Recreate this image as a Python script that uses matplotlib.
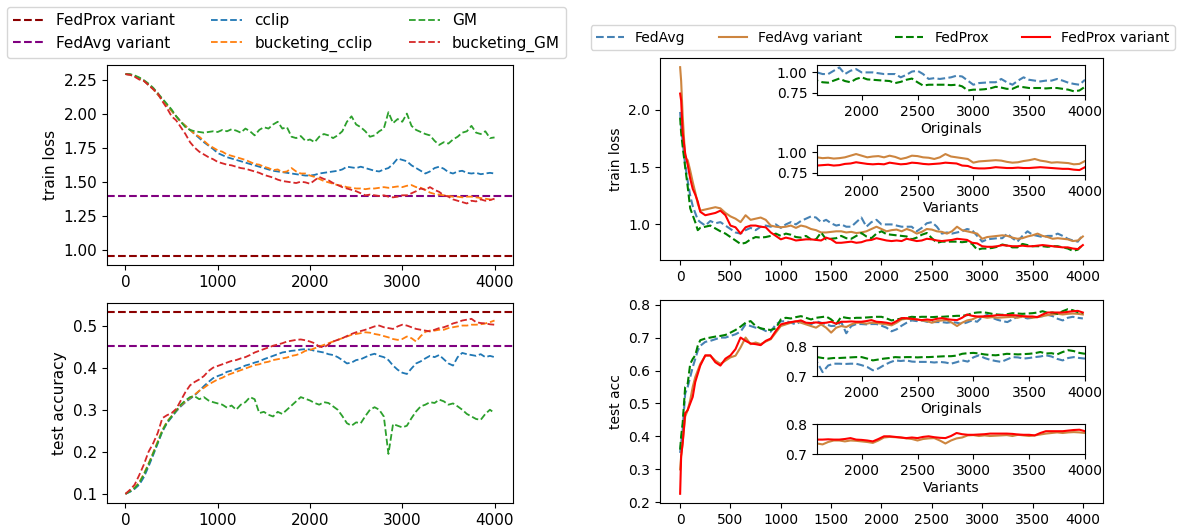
import numpy as np
import matplotlib
matplotlib.use("Agg")
import matplotlib.pyplot as plt
from matplotlib.lines import Line2D

# ---------------- data: left panels (step 50, 0..4000) ----------------
steps_left = list(range(0, 4001, 50))

cclip_loss = [
    2.29, 2.285, 2.275, 2.26, 2.24, 2.21, 2.18, 2.14, 2.10, 2.06,
    2.02, 1.98, 1.94, 1.91, 1.88, 1.85, 1.82, 1.79, 1.765, 1.74,
    1.71, 1.695, 1.68, 1.67, 1.66, 1.65, 1.64, 1.63, 1.62, 1.61,
    1.60, 1.59, 1.58, 1.575, 1.57, 1.565, 1.56, 1.555, 1.55, 1.545,
    1.545, 1.55, 1.56, 1.565, 1.57, 1.575, 1.58, 1.59, 1.61, 1.605,
    1.60, 1.61, 1.60, 1.59, 1.58, 1.575, 1.59, 1.60, 1.63, 1.67,
    1.66, 1.65, 1.62, 1.60, 1.58, 1.56, 1.575, 1.60, 1.61, 1.595,
    1.57, 1.56, 1.575, 1.58, 1.565, 1.56, 1.565, 1.555, 1.56, 1.565,
    1.56]
bucketing_cclip_loss = [
    2.29, 2.285, 2.275, 2.26, 2.24, 2.21, 2.18, 2.14, 2.10, 2.06,
    2.02, 1.98, 1.94, 1.91, 1.88, 1.85, 1.83, 1.80, 1.77, 1.75,
    1.73, 1.72, 1.70, 1.69, 1.68, 1.67, 1.66, 1.645, 1.63, 1.625,
    1.61, 1.60, 1.585, 1.59, 1.57, 1.575, 1.60, 1.575, 1.56, 1.56,
    1.545, 1.535, 1.52, 1.505, 1.495, 1.485, 1.475, 1.47, 1.46, 1.455,
    1.45, 1.45, 1.445, 1.45, 1.45, 1.455, 1.46, 1.455, 1.46, 1.465,
    1.46, 1.47, 1.475, 1.46, 1.455, 1.44, 1.42, 1.41, 1.405, 1.40,
    1.395, 1.39, 1.39, 1.385, 1.39, 1.39, 1.385, 1.38, 1.375, 1.37,
    1.36]
gm_loss = [
    2.29, 2.29, 2.28, 2.265, 2.245, 2.22, 2.19, 2.15, 2.11, 2.07,
    2.03, 1.98, 1.94, 1.90, 1.88, 1.87, 1.865, 1.86, 1.865, 1.87,
    1.865, 1.88, 1.87, 1.885, 1.875, 1.86, 1.89, 1.87, 1.84, 1.88,
    1.90, 1.89, 1.92, 1.94, 1.89, 1.90, 1.83, 1.82, 1.835, 1.80,
    1.81, 1.79, 1.83, 1.85, 1.84, 1.82, 1.84, 1.87, 1.94, 1.98,
    1.92, 1.90, 1.87, 1.83, 1.84, 1.87, 1.89, 2.01, 1.93, 1.96,
    1.94, 2.00, 1.91, 1.88, 1.865, 1.85, 1.84, 1.80, 1.77, 1.79,
    1.78, 1.81, 1.83, 1.86, 1.87, 1.91, 1.86, 1.85, 1.87, 1.82,
    1.825]
bucketing_gm_loss = [
    2.29, 2.285, 2.27, 2.25, 2.24, 2.21, 2.18, 2.15, 2.09, 2.04,
    1.98, 1.95, 1.90, 1.85, 1.79, 1.75, 1.72, 1.70, 1.68, 1.665,
    1.645, 1.635, 1.625, 1.62, 1.61, 1.60, 1.595, 1.585, 1.575, 1.565,
    1.55, 1.54, 1.53, 1.515, 1.505, 1.50, 1.495, 1.49, 1.50, 1.495,
    1.485, 1.51, 1.535, 1.52, 1.51, 1.49, 1.475, 1.46, 1.45, 1.44,
    1.43, 1.415, 1.40, 1.405, 1.40, 1.395, 1.40, 1.39, 1.385, 1.39,
    1.40, 1.40, 1.415, 1.43, 1.45, 1.44, 1.46, 1.44, 1.425, 1.40,
    1.39, 1.37, 1.36, 1.35, 1.34, 1.36, 1.355, 1.37, 1.36, 1.365,
    1.375]

cclip_acc = [
    0.100, 0.105, 0.112, 0.122, 0.140, 0.165, 0.192, 0.220, 0.248, 0.268,
    0.282, 0.296, 0.308, 0.318, 0.326, 0.334, 0.345, 0.356, 0.366, 0.375,
    0.380, 0.384, 0.390, 0.393, 0.396, 0.400, 0.405, 0.408, 0.412, 0.415,
    0.420, 0.424, 0.428, 0.432, 0.436, 0.438, 0.440, 0.441, 0.443, 0.444,
    0.443, 0.440, 0.438, 0.436, 0.432, 0.430, 0.425, 0.418, 0.410, 0.412,
    0.418, 0.420, 0.425, 0.430, 0.433, 0.428, 0.425, 0.418, 0.405, 0.395,
    0.388, 0.385, 0.398, 0.410, 0.415, 0.422, 0.428, 0.425, 0.430, 0.420,
    0.410, 0.405, 0.425, 0.435, 0.432, 0.430, 0.428, 0.432, 0.425, 0.428,
    0.425]
bucketing_cclip_acc = [
    0.100, 0.108, 0.115, 0.128, 0.148, 0.172, 0.198, 0.225, 0.252, 0.272,
    0.285, 0.298, 0.310, 0.320, 0.328, 0.336, 0.345, 0.352, 0.360, 0.366,
    0.372, 0.376, 0.382, 0.386, 0.390, 0.394, 0.398, 0.402, 0.406, 0.408,
    0.412, 0.414, 0.418, 0.420, 0.422, 0.424, 0.428, 0.430, 0.434, 0.440,
    0.442, 0.446, 0.450, 0.454, 0.458, 0.462, 0.466, 0.470, 0.474, 0.478,
    0.480, 0.482, 0.484, 0.483, 0.480, 0.478, 0.475, 0.472, 0.468, 0.466,
    0.468, 0.474, 0.470, 0.462, 0.475, 0.485, 0.488, 0.488, 0.490, 0.490,
    0.494, 0.496, 0.498, 0.500, 0.500, 0.502, 0.502, 0.503, 0.505, 0.508,
    0.512]
gm_acc = [
    0.100, 0.106, 0.114, 0.126, 0.146, 0.170, 0.196, 0.222, 0.250, 0.270,
    0.284, 0.298, 0.312, 0.322, 0.330, 0.332, 0.325, 0.330, 0.322, 0.318,
    0.315, 0.312, 0.305, 0.310, 0.300, 0.312, 0.318, 0.330, 0.325, 0.292,
    0.295, 0.288, 0.284, 0.295, 0.290, 0.300, 0.310, 0.320, 0.330, 0.326,
    0.322, 0.316, 0.312, 0.318, 0.316, 0.308, 0.300, 0.285, 0.268, 0.262,
    0.270, 0.268, 0.285, 0.300, 0.306, 0.300, 0.284, 0.195, 0.266, 0.262,
    0.258, 0.262, 0.280, 0.296, 0.308, 0.312, 0.318, 0.316, 0.324, 0.320,
    0.312, 0.315, 0.308, 0.300, 0.290, 0.284, 0.278, 0.276, 0.290, 0.300,
    0.292]
bucketing_gm_acc = [
    0.100, 0.110, 0.122, 0.145, 0.170, 0.200, 0.220, 0.245, 0.280, 0.287,
    0.292, 0.302, 0.322, 0.342, 0.358, 0.366, 0.372, 0.380, 0.392, 0.400,
    0.404, 0.408, 0.412, 0.416, 0.418, 0.422, 0.425, 0.430, 0.436, 0.440,
    0.444, 0.448, 0.452, 0.455, 0.458, 0.462, 0.464, 0.466, 0.467, 0.465,
    0.462, 0.458, 0.450, 0.448, 0.455, 0.462, 0.466, 0.470, 0.475, 0.480,
    0.484, 0.487, 0.490, 0.494, 0.498, 0.500, 0.496, 0.494, 0.492, 0.498,
    0.502, 0.500, 0.496, 0.492, 0.490, 0.488, 0.486, 0.490, 0.494, 0.496,
    0.500, 0.505, 0.508, 0.512, 0.514, 0.516, 0.508, 0.506, 0.505, 0.503,
    0.502]

fedprox_variant_loss_level = 0.955
fedavg_variant_loss_level = 1.395
fedprox_variant_acc_level = 0.532
fedavg_variant_acc_level = 0.451

# ---------------- data: right panels ----------------
steps_right = [0, 10, 25, 50, 75, 100, 125, 150, 175, 200] + list(range(250, 4001, 50))

fedavg_loss = [
    1.98, 1.85, 1.72, 1.52, 1.38, 1.25, 1.16, 1.10, 1.04, 1.02,
    0.99, 1.03, 1.01, 1.02, 0.99, 0.96, 0.93, 0.92, 0.95, 0.97,
    0.95, 0.98, 0.99, 0.98, 1.00, 0.97, 1.00, 1.02, 1.00, 1.03,
    1.05, 1.07, 1.06, 1.02, 1.04, 1.01, 0.99, 1.00, 0.98, 0.98,
    1.02, 1.06, 0.98, 1.02, 1.04, 1.00, 1.00, 1.00, 0.99, 0.98,
    0.98, 0.98, 0.94, 0.97, 1.01, 1.02, 0.98, 0.92, 0.93, 0.92,
    0.93, 0.94, 0.96, 0.95, 0.90, 0.85, 0.87, 0.875, 0.88, 0.88,
    0.92, 0.88, 0.85, 0.90, 0.94, 0.91, 0.90, 0.89, 0.90, 0.90,
    0.92, 0.90, 0.875, 0.86, 0.85, 0.91]
fedavg_variant_loss = [
    2.37, 2.25, 1.95, 1.58, 1.56, 1.47, 1.37, 1.28, 1.18, 1.12,
    1.13, 1.14, 1.15, 1.14, 1.10, 1.07, 1.05, 1.02, 1.08, 1.04,
    1.05, 1.06, 1.04, 0.99, 0.98, 0.975, 0.98, 0.99, 0.97, 0.99,
    0.98, 0.96, 0.95, 0.93, 0.93, 0.935, 0.94, 0.94, 0.93, 0.935,
    0.925, 0.93, 0.94, 0.96, 0.98, 0.96, 0.94, 0.95, 0.955, 0.94,
    0.96, 0.945, 0.92, 0.935, 0.96, 0.955, 0.94, 0.935, 0.92, 0.94,
    0.98, 0.95, 0.94, 0.93, 0.92, 0.875, 0.89, 0.895, 0.90, 0.905,
    0.90, 0.885, 0.875, 0.88, 0.895, 0.905, 0.92, 0.90, 0.89, 0.875,
    0.88, 0.875, 0.87, 0.855, 0.86, 0.895]
fedprox_loss = [
    1.93, 1.80, 1.68, 1.50, 1.33, 1.14, 1.08, 1.02, 0.95, 0.97,
    0.98, 0.99, 0.965, 0.94, 0.92, 0.89, 0.86, 0.83, 0.84, 0.87,
    0.89, 0.885, 0.89, 0.90, 0.92, 0.90, 0.92, 0.91, 0.89, 0.885,
    0.90, 0.87, 0.87, 0.93, 0.87, 0.875, 0.88, 0.90, 0.88, 0.875,
    0.90, 0.925, 0.895, 0.88, 0.92, 0.94, 0.915, 0.91, 0.905, 0.90,
    0.895, 0.87, 0.885, 0.91, 0.925, 0.88, 0.84, 0.85, 0.85, 0.85,
    0.85, 0.845, 0.85, 0.83, 0.78, 0.79, 0.79, 0.795, 0.805, 0.825,
    0.815, 0.80, 0.80, 0.83, 0.82, 0.81, 0.81, 0.81, 0.805, 0.81,
    0.81, 0.80, 0.79, 0.77, 0.78, 0.825]
fedprox_variant_loss = [
    2.14, 2.08, 1.80, 1.62, 1.52, 1.40, 1.31, 1.26, 1.20, 1.11,
    1.08, 1.09, 1.10, 1.12, 1.08, 0.99, 0.975, 0.92, 0.975, 0.99,
    0.99, 0.98, 0.975, 0.93, 0.90, 0.87, 0.885, 0.875, 0.86, 0.865,
    0.87, 0.87, 0.865, 0.86, 0.885, 0.87, 0.84, 0.84, 0.845, 0.85,
    0.84, 0.845, 0.86, 0.865, 0.88, 0.87, 0.86, 0.855, 0.86, 0.855,
    0.875, 0.865, 0.855, 0.86, 0.875, 0.87, 0.86, 0.855, 0.86, 0.865,
    0.875, 0.87, 0.865, 0.84, 0.835, 0.81, 0.805, 0.805, 0.81, 0.82,
    0.815, 0.81, 0.81, 0.815, 0.81, 0.81, 0.815, 0.82, 0.815, 0.81,
    0.805, 0.80, 0.80, 0.79, 0.785, 0.82]

fedavg_acc = [
    0.35, 0.38, 0.42, 0.53, 0.55, 0.58, 0.61, 0.635, 0.66, 0.675,
    0.687, 0.69, 0.695, 0.70, 0.70, 0.705, 0.71, 0.718, 0.74, 0.735,
    0.73, 0.728, 0.72, 0.718, 0.74, 0.749, 0.75, 0.745, 0.74, 0.75,
    0.745, 0.74, 0.75, 0.745, 0.74, 0.735, 0.736, 0.747, 0.713, 0.735,
    0.741, 0.741, 0.74, 0.741, 0.741, 0.736, 0.73, 0.719, 0.725, 0.736,
    0.745, 0.752, 0.75, 0.752, 0.748, 0.747, 0.747, 0.747, 0.745, 0.747,
    0.745, 0.741, 0.746, 0.752, 0.748, 0.762, 0.769, 0.76, 0.754, 0.75,
    0.747, 0.755, 0.763, 0.762, 0.758, 0.76, 0.763, 0.765, 0.769, 0.765,
    0.757, 0.752, 0.76, 0.763, 0.76, 0.758]
fedavg_variant_acc = [
    0.30, 0.34, 0.38, 0.46, 0.48, 0.51, 0.55, 0.58, 0.60, 0.62,
    0.645, 0.645, 0.63, 0.62, 0.63, 0.64, 0.645, 0.67, 0.70, 0.68,
    0.685, 0.68, 0.688, 0.695, 0.715, 0.735, 0.74, 0.745, 0.75, 0.745,
    0.74, 0.735, 0.73, 0.74, 0.73, 0.715, 0.73, 0.735, 0.732, 0.74,
    0.745, 0.745, 0.742, 0.745, 0.744, 0.742, 0.74, 0.737, 0.745, 0.755,
    0.757, 0.756, 0.755, 0.752, 0.75, 0.745, 0.75, 0.752, 0.753, 0.745,
    0.735, 0.745, 0.752, 0.755, 0.762, 0.763, 0.76, 0.762, 0.76, 0.761,
    0.762, 0.763, 0.76, 0.764, 0.762, 0.76, 0.762, 0.765, 0.768, 0.77,
    0.772, 0.77, 0.772, 0.773, 0.772, 0.77]
fedprox_acc = [
    0.36, 0.40, 0.44, 0.55, 0.56, 0.62, 0.635, 0.646, 0.675, 0.692,
    0.697, 0.70, 0.703, 0.705, 0.708, 0.715, 0.723, 0.733, 0.745, 0.75,
    0.735, 0.728, 0.725, 0.723, 0.728, 0.755, 0.76, 0.758, 0.762, 0.765,
    0.76, 0.755, 0.76, 0.762, 0.764, 0.755, 0.741, 0.763, 0.76, 0.758,
    0.76, 0.76, 0.761, 0.762, 0.763, 0.763, 0.758, 0.752, 0.755, 0.758,
    0.76, 0.763, 0.762, 0.763, 0.763, 0.762, 0.763, 0.763, 0.764, 0.765,
    0.766, 0.766, 0.768, 0.774, 0.776, 0.777, 0.775, 0.772, 0.77, 0.769,
    0.771, 0.774, 0.773, 0.772, 0.773, 0.774, 0.776, 0.78, 0.775, 0.776,
    0.772, 0.78, 0.786, 0.783, 0.777, 0.774]
fedprox_variant_acc = [
    0.226, 0.34, 0.38, 0.47, 0.48, 0.50, 0.52, 0.565, 0.59, 0.615,
    0.646, 0.646, 0.625, 0.615, 0.636, 0.646, 0.665, 0.70, 0.69, 0.682,
    0.68, 0.677, 0.69, 0.697, 0.72, 0.74, 0.744, 0.747, 0.749, 0.752,
    0.745, 0.744, 0.746, 0.744, 0.745, 0.748, 0.742, 0.748, 0.748, 0.749,
    0.748, 0.748, 0.75, 0.753, 0.748, 0.747, 0.745, 0.742, 0.75, 0.759,
    0.759, 0.757, 0.755, 0.753, 0.755, 0.753, 0.757, 0.759, 0.756, 0.754,
    0.753, 0.76, 0.77, 0.766, 0.764, 0.764, 0.765, 0.766, 0.768, 0.768,
    0.768, 0.768, 0.767, 0.765, 0.764, 0.764, 0.762, 0.77, 0.776, 0.776,
    0.776, 0.776, 0.778, 0.78, 0.781, 0.776]

left_names = ["cclip", "bucketing_cclip", "GM", "bucketing_GM"]
left_colors = ["tab:blue", "tab:orange", "tab:green", "tab:red"]
right_names = ["FedAvg", "FedAvg variant", "FedProx", "FedProx variant"]
right_colors = ["steelblue", "peru", "green", "red"]
right_styles = ["--", "-", "--", "-"]
inset_xticks = [2000, 2500, 3000, 3500, 4000]

# ---------------- figure ----------------
LEFT_FS = 11
RIGHT_FS = 10
W, H = 1177, 527
fig = plt.figure(figsize=(W / 100, H / 100), dpi=100)


def box(x0, y0, x1, y1):
    return [x0 / W, 1 - y1 / H, (x1 - x0) / W, (y1 - y0) / H]


ax_lt = fig.add_axes(box(107, 65, 513, 265))
ax_lb = fig.add_axes(box(107, 303, 513, 503))
ax_rt = fig.add_axes(box(660, 58, 1103, 260))
ax_rb = fig.add_axes(box(660, 300, 1103, 503))

# left panels
for ax, series, lev_p, lev_a, ylabel in [
    (ax_lt, [cclip_loss, bucketing_cclip_loss, gm_loss, bucketing_gm_loss],
     fedprox_variant_loss_level, fedavg_variant_loss_level, "train loss"),
    (ax_lb, [cclip_acc, bucketing_cclip_acc, gm_acc, bucketing_gm_acc],
     fedprox_variant_acc_level, fedavg_variant_acc_level, "test accuracy"),
]:
    ax.axhline(lev_p, color="darkred", ls="--", lw=1.5)
    ax.axhline(lev_a, color="purple", ls="--", lw=1.5)
    for vals, c in zip(series, left_colors):
        ax.plot(steps_left, vals, color=c, ls="--", lw=1.3)
    ax.set_ylabel(ylabel, fontsize=LEFT_FS)
    ax.set_xticks([0, 1000, 2000, 3000, 4000])
    ax.tick_params(labelsize=LEFT_FS)
ax_lb.set_yticks([0.1, 0.2, 0.3, 0.4, 0.5])

# right panels
right_loss = [fedavg_loss, fedavg_variant_loss, fedprox_loss, fedprox_variant_loss]
right_acc = [fedavg_acc, fedavg_variant_acc, fedprox_acc, fedprox_variant_acc]
for ax, series, ylabel in [(ax_rt, right_loss, "train loss"), (ax_rb, right_acc, "test acc")]:
    for vals, c, s in zip(series, right_colors, right_styles):
        ax.plot(steps_right, vals, color=c, ls=s, lw=1.5)
    ax.set_ylabel(ylabel, fontsize=RIGHT_FS)
    ax.set_xticks(list(range(0, 4001, 500)))
    ax.tick_params(labelsize=RIGHT_FS)
ax_rt.set_yticks([1.0, 1.5, 2.0])
ax_rb.set_yticks([0.2, 0.3, 0.4, 0.5, 0.6, 0.7, 0.8])

# insets
insets = [
    (box(817, 65, 1085, 95), right_loss, [0, 2], (0.725, 1.09), [0.75, 1.00], "Originals"),
    (box(817, 145, 1085, 175), right_loss, [1, 3], (0.725, 1.09), [0.75, 1.00], "Variants"),
    (box(817, 346, 1085, 376), right_acc, [0, 2], (0.7, 0.8), [0.7, 0.8], "Originals"),
    (box(817, 424, 1085, 454), right_acc, [1, 3], (0.7, 0.8), [0.7, 0.8], "Variants"),
]
for rect, series, idx, ylim, yt, lab in insets:
    ia = fig.add_axes(rect)
    for i in idx:
        ia.plot(steps_right, series[i], color=right_colors[i], ls=right_styles[i], lw=1.5)
    ia.set_xlim(1600, 4000)
    ia.set_ylim(*ylim)
    ia.set_xticks(inset_xticks)
    ia.set_yticks(yt)
    ia.tick_params(labelsize=RIGHT_FS)
    ia.set_xlabel(lab, fontsize=RIGHT_FS, labelpad=2)

# legends
left_handles = [Line2D([], [], color="darkred", ls="--", lw=1.5),
                Line2D([], [], color="purple", ls="--", lw=1.5)]
left_handles += [Line2D([], [], color=c, ls="--", lw=1.3) for c in left_colors]
left_labels = ["FedProx variant", "FedAvg variant", "cclip", "bucketing_cclip", "GM", "bucketing_GM"]
fig.legend(left_handles, left_labels, loc="upper left", ncol=3, fontsize=LEFT_FS,
           columnspacing=2.4, bbox_to_anchor=(7 / W, 1 - 7 / H), borderaxespad=0)

right_handles = [Line2D([], [], color=c, ls=s, lw=1.5) for c, s in zip(right_colors, right_styles)]
fig.legend(right_handles, right_names, loc="upper right", ncol=4, fontsize=RIGHT_FS,
           columnspacing=2.4, bbox_to_anchor=(1175 / W, 1 - 25 / H), borderaxespad=0)

fig.savefig("out.png", dpi=100)
